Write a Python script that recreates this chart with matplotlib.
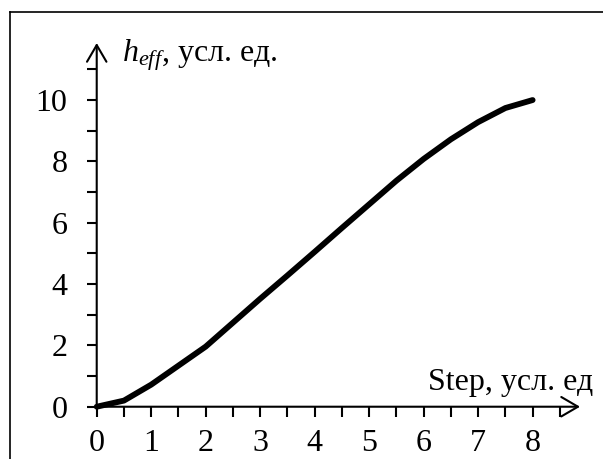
import numpy as np
import matplotlib.pyplot as plt
from matplotlib.lines import Line2D

plt.rcParams['font.family'] = ['Liberation Serif', 'DejaVu Serif']
plt.rcParams['mathtext.fontset'] = 'custom'
plt.rcParams['mathtext.rm'] = 'Liberation Serif'
plt.rcParams['mathtext.it'] = 'Liberation Serif:italic'

FONT_SIZE = 23

# data
step = [0, 0.5, 1, 1.5, 2, 2.5, 3, 3.5, 4, 4.5, 5, 5.5, 6, 6.5, 7, 7.5, 8]
h_eff = [0, 0.2, 0.72, 1.34, 1.96, 2.74, 3.52, 4.28, 5.05, 5.83, 6.6,
         7.37, 8.08, 8.72, 9.28, 9.74, 10.0]
x_ticks = [0, 1, 2, 3, 4, 5, 6, 7, 8]
y_ticks = [0, 2, 4, 6, 8, 10]
x_label = 'Step, усл. ед'
y_label = r'$h_{eff}$, усл. ед.'

fig = plt.figure(figsize=(6.03, 4.59), dpi=100)
ax = fig.add_axes([0.1604, 0.1139, 0.8015, 0.7924])

XMAX, YMAX = 8.87, 11.86
ax.set_xlim(0, XMAX)
ax.set_ylim(0, YMAX)

ax.plot(step, h_eff, color='black', lw=4.2, solid_capstyle='round',
        solid_joinstyle='round', clip_on=False, zorder=5)

# axes with open arrow heads
for sp in ax.spines.values():
    sp.set_visible(False)
arrow = dict(arrowstyle='->,head_length=0.6,head_width=0.35', lw=1.5,
             color='black', shrinkA=0, shrinkB=0, mutation_scale=20)
ax.annotate('', xy=(XMAX, 0), xytext=(0, 0), arrowprops=arrow,
            annotation_clip=False)
ax.annotate('', xy=(0, YMAX), xytext=(0, 0), arrowprops=arrow,
            annotation_clip=False)

ax.set_xticks(x_ticks)
ax.set_xticks(np.arange(0.5, 9, 1), minor=True)
ax.set_yticks(y_ticks)
ax.set_yticks(np.arange(1, 12, 2), minor=True)
ax.set_xticklabels([str(v) for v in x_ticks])
ax.set_yticklabels([str(v) for v in y_ticks])
ax.tick_params(which='both', direction='out', length=7, width=1.5, color='black')
ax.tick_params(axis='x', which='major', labelsize=FONT_SIZE, pad=9)
ax.tick_params(axis='y', which='major', labelsize=FONT_SIZE, pad=14)

ax.text(6.08, 0.54, x_label, fontsize=FONT_SIZE, ha='left', va='baseline')
ax.text(0.46, 11.25, y_label, fontsize=FONT_SIZE, ha='left', va='baseline')

# outer frame (left and top edges)
fig.add_artist(Line2D([9.5 / 603, 9.5 / 603], [0, 1 - 12 / 459], color='black', lw=1.2))
fig.add_artist(Line2D([9.5 / 603, 1], [1 - 12 / 459, 1 - 12 / 459], color='black', lw=1.2))

fig.savefig('out.png', dpi=100)
